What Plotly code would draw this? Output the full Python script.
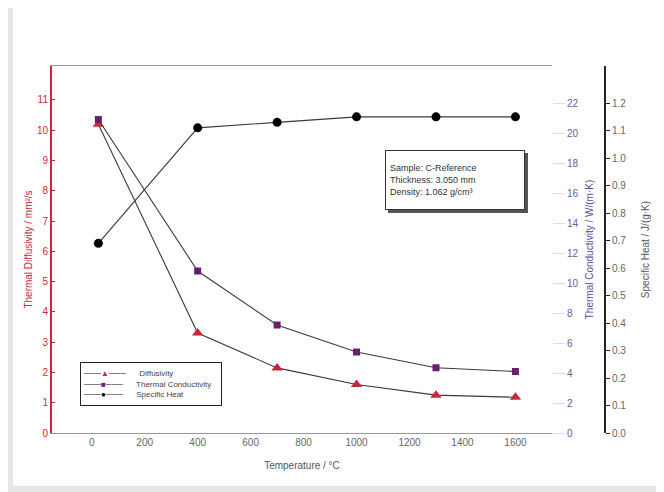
import plotly.graph_objects as go

# ---- data ----
temperature = [25, 400, 700, 1000, 1300, 1600]
diffusivity = [10.2, 3.3, 2.15, 1.6, 1.25, 1.18]
conductivity = [20.9, 10.8, 7.2, 5.4, 4.35, 4.1]
specific_heat = [0.69, 1.11, 1.13, 1.15, 1.15, 1.15]

x_ticks = [0, 200, 400, 600, 800, 1000, 1200, 1400, 1600]
diff_ticks = list(range(0, 12))
cond_ticks = list(range(0, 23, 2))
cp_ticks = [round(i * 0.1, 1) for i in range(0, 13)]

series_names = ["Diffusivity", "Thermal Conductivity", "Specific Heat"]
info_text = "Sample: C-Reference<br>Thickness: 3.050 mm<br>Density: 1.062 g/cm³"

# page body adds an 8 px margin; figure coordinates = screen - 8
OFF = 8
W, H = 656, 484
L, R, T, B = 44, 59, 58, 59
pw = W - L - R
ph = H - T - B


def px(sx):
    return (sx - OFF - L) / pw


def py(sy):
    return (H - B - (sy - OFF)) / ph


RED = "#c8283c"
PURPLE = "#6a1f6e"
LINE = "#3a3a3a"
TICKC = "#666666"
FONT = "Liberation Sans"

fig = go.Figure()
fig.add_trace(go.Scatter(
    x=temperature, y=diffusivity, name=series_names[0], yaxis="y",
    mode="lines+markers", line=dict(color=LINE, width=1.1),
    marker=dict(symbol="triangle-up", size=10, color=RED)))
fig.add_trace(go.Scatter(
    x=temperature, y=conductivity, name=series_names[1], yaxis="y2",
    mode="lines+markers", line=dict(color=LINE, width=1.1),
    marker=dict(symbol="square", size=7, color=PURPLE)))
fig.add_trace(go.Scatter(
    x=temperature, y=specific_heat, name=series_names[2], yaxis="y3",
    mode="lines+markers", line=dict(color=LINE, width=1.1),
    marker=dict(symbol="circle", size=9, color="black")))

legend_colors = [RED, PURPLE, "black"]
legend_symbols = ["▲", "■", "●"]
legend_lines = []
for name, col, sym in zip(series_names, legend_colors, legend_symbols):
    legend_lines.append(
        f"<span style='color:#333333'>───</span><span style='color:{col}'>{sym}</span>"
        f"<span style='color:#333333'>───</span>      {name}")
legend_text = "<br>".join(legend_lines)

fig.update_layout(
    width=W, height=H,
    margin=dict(l=L, r=R, t=T, b=B, autoexpand=False),
    paper_bgcolor="#e6e6e6",
    plot_bgcolor="rgba(0,0,0,0)",
    font=dict(family=FONT, size=10, color=TICKC),
    showlegend=False,
    xaxis=dict(domain=[0, px(552)], range=[-150, 1738],
               tickvals=x_ticks, ticks="", showgrid=False, zeroline=False,
               showline=True, linecolor="#999999", linewidth=1, mirror=True,
               title=dict(text="Temperature / °C", font=dict(size=10, color="#555555"), standoff=14),
               tickfont=dict(size=10, color=TICKC)),
    yaxis=dict(range=[0, 12.12], tickvals=diff_ticks, showgrid=False,
               zeroline=False, showline=True, linecolor=RED, linewidth=2,
               ticks="inside", ticklen=3, tickcolor=RED,
               tickfont=dict(size=10, color=RED),
               title=dict(text="Thermal Diffusivity / mm²/s", font=dict(size=10, color=RED), standoff=2)),
    yaxis2=dict(range=[0, 24.47], tickvals=cond_ticks, overlaying="y",
                side="right", anchor="x", showgrid=False, zeroline=False,
                showline=False, ticks="outside", ticklen=12, tickcolor="#dddddd",
                tickfont=dict(size=10, color="#6a5a9a"),
                title=dict(text="Thermal Conductivity / W/(m·K)", font=dict(size=10, color="#5a4aa0"), standoff=8)),
    yaxis3=dict(range=[0, 1.335], tickvals=cp_ticks, tickformat=".1f",
                overlaying="y", side="right", anchor="free", position=1.0,
                showgrid=False, zeroline=False, showline=True,
                linecolor="#222222", linewidth=2, ticks="outside", ticklen=4,
                tickcolor="#222222", tickfont=dict(size=10, color=TICKC),
                title=dict(text="Specific Heat / J/(g·K)", font=dict(size=10, color="#555555"), standoff=16)),
    shapes=[
        dict(type="rect", xref="paper", yref="paper", layer="below",
             x0=px(13), x1=px(657), y0=py(486), y1=py(3),
             fillcolor="white", line=dict(width=0)),
        dict(type="rect", xref="paper", yref="paper", layer="above",
             x0=px(388), x1=px(528), y0=py(213), y1=py(153),
             fillcolor="#555555", line=dict(width=0)),
    ],
    annotations=[
        dict(text=info_text, xref="paper", yref="paper",
             x=px(455), y=py(180), xanchor="center", yanchor="middle",
             showarrow=False, align="left", bgcolor="white",
             bordercolor="#333333", borderwidth=1, borderpad=4,
             width=130, height=50,
             font=dict(size=9, color="#333333", family=FONT)),
        dict(text=legend_text, xref="paper", yref="paper",
             x=px(80), y=py(362), xanchor="left", yanchor="top",
             showarrow=False, align="left", bgcolor="white",
             bordercolor="#222222", borderwidth=1, borderpad=2,
             width=136, height=38,
             font=dict(size=8, color="#444444", family=FONT)),
    ],
)

fig.write_html("out.html")
